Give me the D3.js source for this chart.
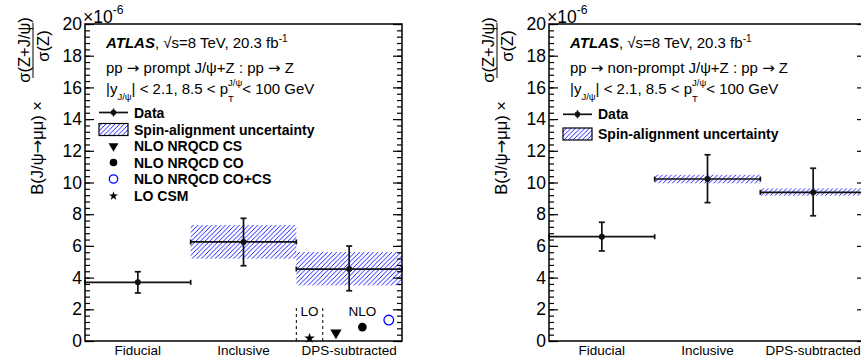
<!DOCTYPE html>
<html>
<head>
<meta charset="utf-8">
<script src="https://cdn.jsdelivr.net/npm/d3@7"></script>
<style>
  body { margin: 0; background: #fff; }
  svg { display: block; font-family: "Liberation Sans", Arial, Helvetica, sans-serif; }
  .arr { font-family: "DejaVu Sans", sans-serif; }
</style>
</head>
<body>
<div id="chart"></div>
<script>
// bins on the x axis
const categories = ["Fiducial", "Inclusive", "DPS-subtracted"];

// prompt J/psi + Z (left panel), values in units of 1e-6
const promptVal = [3.70, 6.25, 4.54];
const promptErrHi = [0.67, 1.49, 1.45];
const promptErrLo = [0.67, 1.50, 1.37];
const promptSpinLo = [null, 5.19, 3.51];
const promptSpinHi = [null, 7.32, 5.61];

// non-prompt J/psi + Z (right panel)
const nonpromptVal = [6.58, 10.22, 9.38];
const nonpromptErrHi = [0.91, 1.53, 1.52];
const nonpromptErrLo = [0.90, 1.49, 1.48];
const nonpromptSpinLo = [null, 9.95, 9.17];
const nonpromptSpinHi = [null, 10.49, 9.63];

// theory predictions for the DPS-subtracted bin
const theoryNames = ["LO CSM", "NLO NRQCD CS", "NLO NRQCD CO", "NLO NRQCD CO+CS"];
const theoryVal = [0.17, 0.52, 0.88, 1.32];
const theoryPos = [2.125, 2.375, 2.625, 2.875];
const loBox = [2.0, 2.25];
const loBoxTop = 2.16;

const yTicks = [0, 2, 4, 6, 8, 10, 12, 14, 16, 18, 20];

const W = 861, H = 363;
const svg = d3.select("#chart").append("svg").attr("width", W).attr("height", H);

// hatch for the spin-alignment band
const defs = svg.append("defs");
const pat = defs.append("pattern")
  .attr("id", "hatch")
  .attr("patternUnits", "userSpaceOnUse")
  .attr("width", 4.6).attr("height", 4.6);
pat.append("path")
  .attr("d", "M-1,1 L1,-1 M0,4.6 L4.6,0 M3.6,5.6 L5.6,3.6")
  .attr("stroke", "#0000ff").attr("stroke-width", 0.9);

// builds a line of text from pieces (sub/superscripts), measuring as it goes
function richText(g, x, y, parts) {
  let cx = x, prevStart = x;
  parts.forEach(p => {
    const start = p.stack ? prevStart : cx;
    const t = g.append("text")
      .attr("x", start).attr("y", y + (p.shift || 0))
      .attr("font-size", p.size || 14)
      .attr("font-weight", p.weight || "normal")
      .attr("font-style", p.style || "normal")
      .attr("fill", "#000")
      .text(p.t);
    const w = t.node().getComputedTextLength();
    prevStart = start;
    if (p.stack) { cx = Math.max(cx, start + w); }
    else { cx = start + w; }
  });
  return cx;
}

// text where "→" is drawn with a wider arrow glyph
function arrowText(sel, str) {
  str.split("\u2192").forEach((s, i) => {
    if (i > 0) sel.append("tspan").attr("class", "arr").text("\u2192");
    sel.append("tspan").text(s);
  });
}

function drawPanel(opt) {
  const left = opt.left, top = 24, width = 317, height = 317;
  const x = d3.scaleLinear().domain([0, 3]).range([left, left + width]);
  const y = d3.scaleLinear().domain([0, 20]).range([top + height, top]);
  const g = svg.append("g");

  // spin-alignment bands
  g.selectAll("rect.band")
    .data(categories.map((c, i) => ({ i, lo: opt.spinLo[i], hi: opt.spinHi[i] })).filter(d => d.lo !== null))
    .enter().append("rect")
    .attr("class", "band")
    .attr("x", d => x(d.i))
    .attr("width", d => x(d.i + 1) - x(d.i))
    .attr("y", d => y(d.hi))
    .attr("height", d => y(d.lo) - y(d.hi))
    .attr("fill", "url(#hatch)");

  // data points
  const pts = categories.map((c, i) => ({ i, v: opt.val[i], hi: opt.errHi[i], lo: opt.errLo[i] }));
  const dg = g.selectAll("g.pt").data(pts).enter().append("g")
    .attr("stroke", "#111").attr("stroke-width", 1.7).attr("fill", "#111");
  dg.append("line")
    .attr("x1", d => x(d.i)).attr("x2", d => x(d.i + 1))
    .attr("y1", d => y(d.v)).attr("y2", d => y(d.v));
  dg.append("line")
    .attr("x1", d => x(d.i)).attr("x2", d => x(d.i))
    .attr("y1", d => y(d.v) - 2.5).attr("y2", d => y(d.v) + 2.5);
  dg.append("line")
    .attr("x1", d => x(d.i + 1)).attr("x2", d => x(d.i + 1))
    .attr("y1", d => y(d.v) - 2.5).attr("y2", d => y(d.v) + 2.5);
  dg.append("line")
    .attr("x1", d => x(d.i + 0.5)).attr("x2", d => x(d.i + 0.5))
    .attr("y1", d => y(d.v + d.hi)).attr("y2", d => y(d.v - d.lo));
  dg.append("line")
    .attr("x1", d => x(d.i + 0.5) - 3).attr("x2", d => x(d.i + 0.5) + 3)
    .attr("y1", d => y(d.v + d.hi)).attr("y2", d => y(d.v + d.hi));
  dg.append("line")
    .attr("x1", d => x(d.i + 0.5) - 3).attr("x2", d => x(d.i + 0.5) + 3)
    .attr("y1", d => y(d.v - d.lo)).attr("y2", d => y(d.v - d.lo));
  dg.append("circle")
    .attr("cx", d => x(d.i + 0.5)).attr("cy", d => y(d.v)).attr("r", 3)
    .attr("stroke", "none");

  // theory predictions
  if (opt.theory) {
    loBox.forEach(xx => {
      g.append("line")
        .attr("x1", x(xx)).attr("x2", x(xx))
        .attr("y1", y(0)).attr("y2", y(loBoxTop))
        .attr("stroke", "#000").attr("stroke-width", 1).attr("stroke-dasharray", "3,3");
    });
    g.append("text").attr("x", x(theoryPos[0])).attr("y", y(loBoxTop) + 9)
      .attr("text-anchor", "middle").attr("font-size", 13.5).text("LO");
    g.append("text").attr("x", x(theoryPos[2])).attr("y", y(loBoxTop) + 9)
      .attr("text-anchor", "middle").attr("font-size", 13.5).text("NLO");
    theoryNames.forEach((n, i) => {
      drawMarker(g, n, x(theoryPos[i]), y(theoryVal[i]), 1.15);
    });
  }

  // frame and ticks
  const minor = d3.range(0, 20.001, 0.4);
  g.append("g").attr("transform", `translate(${left},0)`)
    .call(d3.axisRight(y).tickValues(minor).tickSize(5).tickFormat(""))
    .call(a => a.select(".domain").remove());
  g.append("g").attr("transform", `translate(${left},0)`)
    .call(d3.axisRight(y).tickValues(yTicks).tickSize(9).tickFormat(""))
    .call(a => a.select(".domain").remove());
  g.append("g").attr("transform", `translate(${left + width},0)`)
    .call(d3.axisLeft(y).tickValues(minor).tickSize(5).tickFormat(""))
    .call(a => a.select(".domain").remove());
  g.append("g").attr("transform", `translate(${left + width},0)`)
    .call(d3.axisLeft(y).tickValues(yTicks).tickSize(9).tickFormat(""))
    .call(a => a.select(".domain").remove());
  g.selectAll(".tick line").attr("stroke", "#000").attr("stroke-width", 1.2);

  const yl = g.append("g").attr("transform", `translate(${left},0)`)
    .call(d3.axisLeft(y).tickValues(yTicks).tickSize(0).tickPadding(3));
  yl.select(".domain").remove();
  yl.selectAll("text").attr("font-size", 17.5).attr("font-family", "Liberation Sans, Arial, sans-serif").attr("fill", "#000");

  g.append("rect")
    .attr("x", left).attr("y", top).attr("width", width).attr("height", height)
    .attr("fill", "none").attr("stroke", "#000").attr("stroke-width", 1.5);

  // x category labels
  g.selectAll("text.cat").data(categories).enter().append("text")
    .attr("class", "cat")
    .attr("x", (d, i) => x(i + 0.5)).attr("y", 355)
    .attr("text-anchor", "middle").attr("font-size", 13.5)
    .text(d => d);

  // x10^-6
  richText(g, left - 2, 22.5, [
    { t: "\u00d710", size: 17.5 },
    { t: "-6", size: 12, shift: -9 }
  ]);

  // y title
  const yt = g.append("g").attr("transform", `translate(${left},0) rotate(-90)`);
  arrowText(yt.append("text").attr("x", -101).attr("y", -42)
    .attr("text-anchor", "end").attr("font-size", 16.5), "B(J/\u03c8\u2192\u03bc\u03bc) \u00d7");
  yt.append("line").attr("x1", -78).attr("x2", -23).attr("y1", -52).attr("y2", -52)
    .attr("stroke", "#000").attr("stroke-width", 1);
  yt.append("text").attr("x", -50).attr("y", -55)
    .attr("text-anchor", "middle").attr("font-size", 16.5)
    .text("\u03c3(Z+J/\u03c8)");
  yt.append("text").attr("x", -46).attr("y", -36)
    .attr("text-anchor", "middle").attr("font-size", 16.5)
    .text("\u03c3(Z)");

  // header text
  const tx = left + 21;
  richText(g, tx, 48, [
    { t: "ATLAS", size: 15, weight: "bold", style: "italic" },
    { t: ",  \u221as=8 TeV, 20.3 fb", size: 15 },
    { t: " -1", size: 10, shift: -6 }
  ]);
  arrowText(g.append("text").attr("x", tx).attr("y", 72.5).attr("font-size", 15), opt.process);
  richText(g, tx, 94, [
    { t: "|y", size: 15 },
    { t: "J/\u03c8", size: 9.5, shift: 6 },
    { t: "| < 2.1, 8.5 < p", size: 15 },
    { t: "J/\u03c8", size: 9.5, shift: -8 },
    { t: "T", size: 9.5, shift: 8, stack: true },
    { t: " < 100 GeV", size: 15 }
  ]);

  // legend
  const lx = left + 14, lw = 29, ltx = left + 49;
  const rows = opt.legendRows;
  rows.forEach(r => {
    const cy = r.y;
    if (r.name === "Data") {
      g.append("line").attr("x1", lx).attr("x2", lx + lw).attr("y1", cy).attr("y2", cy)
        .attr("stroke", "#111").attr("stroke-width", 1.7);
      g.append("line").attr("x1", lx + lw / 2).attr("x2", lx + lw / 2).attr("y1", cy - 4).attr("y2", cy + 4)
        .attr("stroke", "#111").attr("stroke-width", 1.5);
      g.append("circle").attr("cx", lx + lw / 2).attr("cy", cy).attr("r", 2.8).attr("fill", "#111");
    } else if (r.name === "Spin-alignment uncertainty") {
      g.append("rect").attr("x", lx).attr("y", cy - 6).attr("width", lw).attr("height", 12)
        .attr("fill", "url(#hatch)").attr("stroke", "#000").attr("stroke-width", 1.2);
    } else {
      drawMarker(g, r.name, lx + lw / 2, cy, 1);
    }
    g.append("text").attr("x", ltx).attr("y", cy + 5)
      .attr("font-size", 14).attr("font-weight", "bold").text(r.name);
  });
}

function drawMarker(g, name, cx, cy, s) {
  if (name === "NLO NRQCD CS") {
    g.append("path").attr("d", d3.symbol(d3.symbolTriangle, 42 * s * s))
      .attr("transform", `translate(${cx},${cy}) rotate(180)`).attr("fill", "#000");
  } else if (name === "NLO NRQCD CO") {
    g.append("circle").attr("cx", cx).attr("cy", cy).attr("r", 3.8 * s).attr("fill", "#000");
  } else if (name === "NLO NRQCD CO+CS") {
    g.append("circle").attr("cx", cx).attr("cy", cy).attr("r", 4.2 * s)
      .attr("fill", "none").attr("stroke", "#0000ff").attr("stroke-width", 1.3);
  } else if (name === "LO CSM") {
    g.append("path").attr("d", d3.symbol(d3.symbolStar, 26 * s * s))
      .attr("transform", `translate(${cx},${cy})`).attr("fill", "#000");
  }
}

drawPanel({
  left: 85,
  val: promptVal, errHi: promptErrHi, errLo: promptErrLo,
  spinLo: promptSpinLo, spinHi: promptSpinHi,
  theory: true,
  process: "pp \u2192 prompt J/\u03c8+Z : pp \u2192 Z",
  legendRows: [
    { name: "Data", y: 112.5 },
    { name: "Spin-alignment uncertainty", y: 129.5 },
    { name: "NLO NRQCD CS", y: 146 },
    { name: "NLO NRQCD CO", y: 162.5 },
    { name: "NLO NRQCD CO+CS", y: 179 },
    { name: "LO CSM", y: 196 }
  ]
});

drawPanel({
  left: 549,
  val: nonpromptVal, errHi: nonpromptErrHi, errLo: nonpromptErrLo,
  spinLo: nonpromptSpinLo, spinHi: nonpromptSpinHi,
  theory: false,
  process: "pp \u2192 non-prompt J/\u03c8+Z : pp \u2192 Z",
  legendRows: [
    { name: "Data", y: 114.3 },
    { name: "Spin-alignment uncertainty", y: 134 }
  ]
});
</script>
</body>
</html>
